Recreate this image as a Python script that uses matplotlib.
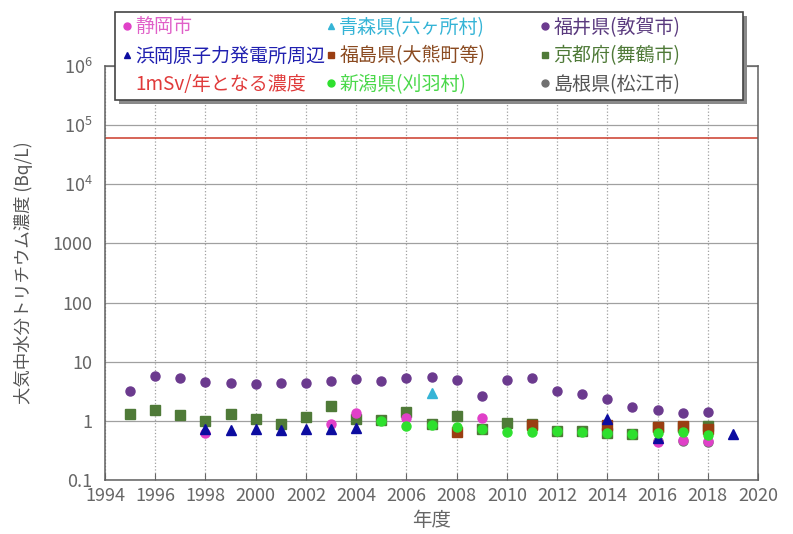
import matplotlib.pyplot as plt
from matplotlib.lines import Line2D
from matplotlib.patches import Rectangle

plt.rcParams['font.family'] = ['Noto Sans CJK JP', 'DejaVu Sans']
plt.rcParams['mathtext.fontset'] = 'custom'
plt.rcParams['mathtext.rm'] = 'Noto Sans CJK JP'

# data (Bq/L)
fukui_years = list(range(1995, 2019))
fukui_vals = [3.2, 5.8, 5.4, 4.6, 4.4, 4.2, 4.4, 4.4, 4.8, 5.1, 4.8, 5.4,
              5.6, 5.0, 2.6, 4.9, 5.4, 3.2, 2.8, 2.3, 1.7, 1.5, 1.35, 1.4]

kyoto_years = list(range(1995, 2019))
kyoto_vals = [1.3, 1.5, 1.25, 1.0, 1.3, 1.08, 0.9, 1.17, 1.8, 1.08, 1.04, 1.42,
              0.88, 1.2, 0.73, 0.91, 0.88, 0.68, 0.67, 0.62, 0.61, 0.78, 0.8, 0.82]

hamaoka_years = [1998, 1999, 2000, 2001, 2002, 2003, 2004, 2014, 2016, 2019]
hamaoka_vals = [0.72, 0.69, 0.72, 0.70, 0.72, 0.72, 0.76, 1.08, 0.52, 0.6]

shizuoka_years = [1998, 2003, 2004, 2006, 2009, 2016, 2017, 2018]
shizuoka_vals = [0.62, 0.88, 1.35, 1.12, 1.1, 0.44, 0.47, 0.46]

aomori_years = [2007]
aomori_vals = [3.0]

fukushima_years = [2008, 2011, 2014, 2016, 2017, 2018]
fukushima_vals = [0.66, 0.85, 0.86, 0.80, 0.83, 0.72]

niigata_years = [2005, 2006, 2007, 2008, 2009, 2010, 2011, 2012, 2013, 2014,
                 2015, 2016, 2017, 2018]
niigata_vals = [1.0, 0.82, 0.85, 0.8, 0.74, 0.64, 0.65, 0.68, 0.66, 0.62,
                0.6, 0.62, 0.65, 0.58]

shimane_years = [2016, 2017, 2018]
shimane_vals = [0.45, 0.46, 0.44]

limit_1msv = 60000

W, H = 793, 534
fig = plt.figure(figsize=(W / 100, H / 100), dpi=100)
ax = fig.add_axes([105 / W, 1 - 480 / H, 653 / W, 414 / H])

ms = 6.5
ax.axhline(limit_1msv, color='#cc3a2a', lw=1.1, zorder=2)
ax.plot(fukui_years, fukui_vals, 'o', color='#6b3a8e', ms=ms, zorder=3)
ax.plot(kyoto_years, kyoto_vals, 's', color='#4f7a38', ms=ms, zorder=3)
ax.plot(fukushima_years, fukushima_vals, 's', color='#9a3e12', ms=ms, zorder=3)
ax.plot(aomori_years, aomori_vals, '^', color='#35b4d6', ms=ms, zorder=3)
ax.plot(shimane_years, shimane_vals, 'o', color='#707070', ms=ms, zorder=3)
ax.plot(shizuoka_years, shizuoka_vals, 'o', color='#e040c8', ms=ms, zorder=3)
ax.plot(hamaoka_years, hamaoka_vals, '^', color='#0c0ca0', ms=ms, zorder=4)
ax.plot(niigata_years, niigata_vals, 'o', color='#2ee02e', ms=ms, zorder=5)

ax.set_yscale('log')
ax.set_ylim(0.1, 1e6)
ax.set_xlim(1994, 2020)
ax.set_xticks(range(1994, 2021, 2))
ax.set_yticks([0.1, 1, 10, 100, 1000, 1e4, 1e5, 1e6])
ax.set_yticklabels(['0.1', '1', '10', '100', '1000',
                    r'$10^4$', r'$10^5$', r'$10^6$'])
ax.minorticks_off()
ax.tick_params(colors='#666666', labelsize=13, length=5, direction='in')
ax.tick_params(axis='y', length=0, pad=9)
ax.tick_params(axis='x', pad=5)
ax.grid(axis='y', color='#a0a0a0', lw=0.9)
ax.grid(axis='x', color='#a0a0a0', lw=0.9, ls=':')
for s in ax.spines.values():
    s.set_color('#606060')
    s.set_linewidth(1.1)

ax.set_xlabel('年度', fontsize=14, color='#666666', labelpad=4)
ax.set_ylabel('大気中水分トリチウム濃度 (Bq/L)', fontsize=12.5,
              color='#555555', labelpad=14)

# legend box with shadow, drawn over the top of the axes
bx0, by0, bx1, by1 = 115, 12, 743, 100
fig.add_artist(Rectangle((bx0 / W + 4 / W, 1 - (by1 + 4) / H),
                         (bx1 - bx0) / W, (by1 - by0) / H,
                         transform=fig.transFigure, facecolor='#8a8a8a',
                         edgecolor='none', zorder=3))
fig.add_artist(Rectangle((bx0 / W, 1 - by1 / H), (bx1 - bx0) / W,
                         (by1 - by0) / H, transform=fig.transFigure,
                         facecolor='white', edgecolor='#444444', lw=1.2,
                         zorder=4))

def h(marker, color):
    return Line2D([], [], marker=marker, color=color, ls='none', ms=5)

columns = [
    ([h('o', '#e040c8'), h('^', '#0c0ca0'), Line2D([], [], ls='none')],
     ['静岡市', '浜岡原子力発電所周辺', '1mSv/年となる濃度'],
     ['#e060c8', '#2020b0', '#e03a3a'], 122),
    ([h('^', '#35b4d6'), h('s', '#9a3e12'), h('o', '#2ee02e')],
     ['青森県(六ヶ所村)', '福島県(大熊町等)', '新潟県(刈羽村)'],
     ['#35b4d6', '#8a4a20', '#4ad84a'], 326),
    ([h('o', '#6b3a8e'), h('s', '#4f7a38'), h('o', '#707070')],
     ['福井県(敦賀市)', '京都府(舞鶴市)', '島根県(松江市)'],
     ['#5a3a7e', '#4f7a38', '#555555'], 540),
]
for hs, labs, cols, x in columns:
    leg = fig.legend(hs, labs, loc='center left',
                     bbox_to_anchor=(x / W, 1 - 56 / H),
                     fontsize=13.7, handlelength=0.5, handletextpad=0.2,
                     labelspacing=0.4, borderpad=0, borderaxespad=0,
                     frameon=False, labelcolor=cols)
    leg.set_zorder(5)

plt.savefig('out.png', dpi=100)
